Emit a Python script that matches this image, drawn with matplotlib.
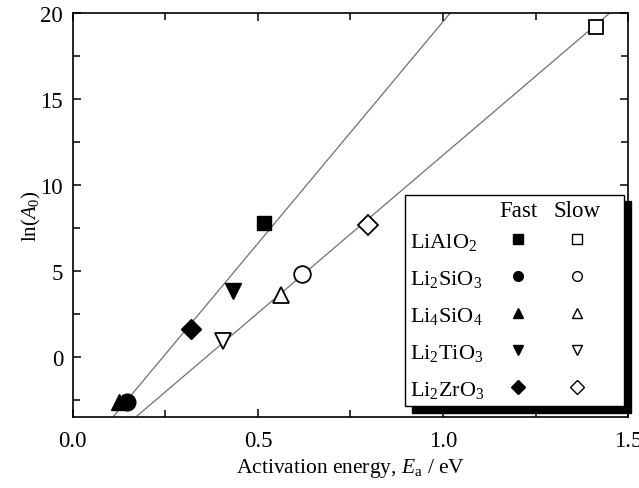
import numpy as np
import matplotlib
matplotlib.use('Agg')
import matplotlib.pyplot as plt
from matplotlib.patches import Rectangle

plt.rcParams['font.family'] = ['Liberation Serif', 'DejaVu Serif']
plt.rcParams['mathtext.fontset'] = 'custom'
plt.rcParams['mathtext.rm'] = 'Liberation Serif'
plt.rcParams['mathtext.it'] = 'Liberation Serif:italic'

# -------------------- data --------------------
materials = [r'LiAlO$_2$', r'Li$_2$SiO$_3$', r'Li$_4$SiO$_4$', r'Li$_2$TiO$_3$', r'Li$_2$ZrO$_3$']
markers = ['s', 'o', '^', 'v', 'D']

fast_ea = [0.516, 0.145, 0.125, 0.432, 0.320]
fast_lnA = [7.8, -2.6, -2.6, 3.85, 1.65]

slow_ea = [1.414, 0.620, 0.562, 0.405, 0.797]
slow_lnA = [19.2, 4.8, 3.6, 0.9, 7.7]

# fitted lines (slope, intercept)
fast_fit = (25.8, -6.29)
slow_fit = (18.36, -6.62)

# -------------------- plot --------------------
fig = plt.figure(figsize=(6.39, 4.89), dpi=100)
ax = fig.add_axes([0.114, 0.145, 0.869, 0.826])

xx = np.array([0.0, 1.5])
for slope, icpt in (fast_fit, slow_fit):
    ax.plot(xx, slope * xx + icpt, color='#707070', lw=0.9, zorder=1)

msize = {'s': 10.5, 'o': 12, '^': 12, 'v': 12, 'D': 10}
for i, m in enumerate(markers):
    ax.plot(fast_ea[i], fast_lnA[i], marker=m, ms=msize[m], color='black',
            mec='black', ls='none', zorder=3)
    ax.plot(slow_ea[i], slow_lnA[i], marker=m, ms=msize[m], mfc='white',
            mec='black', mew=1.3, ls='none', zorder=3)

ax.set_xlim(0, 1.5)
ax.set_ylim(-3.5, 20)
ax.set_xticks([0.0, 0.5, 1.0, 1.5])
ax.set_xticks(np.arange(0, 1.51, 0.25), minor=True)
ax.set_yticks([0, 5, 10, 15, 20])
ax.set_yticks(np.arange(-2.5, 20.1, 2.5), minor=True)
ax.xaxis.set_major_formatter(matplotlib.ticker.FormatStrFormatter('%.1f'))
ax.tick_params(which='both', direction='in', top=True, right=True, labelsize=16.5, width=1.1)
ax.tick_params(which='major', length=6)
ax.tick_params(which='minor', length=5)
ax.tick_params(axis='x', pad=9)
ax.tick_params(axis='y', pad=7)
for s in ax.spines.values():
    s.set_linewidth(1.2)

ax.set_xlabel(r'Activation energy, $E_\mathrm{a}$ / eV', fontsize=15.5, labelpad=4)
ax.set_ylabel(r'ln($A_0$)', fontsize=15, labelpad=-2)

# -------------------- custom legend table --------------------
bx0, by0, bx1, by1 = 0.598, 0.027, 0.993, 0.550
shadow = Rectangle((bx0 + 0.012, by0 - 0.016), bx1 - bx0, by1 - by0,
                   transform=ax.transAxes, facecolor='black', edgecolor='black',
                   clip_on=False, zorder=4)
box = Rectangle((bx0, by0), bx1 - bx0, by1 - by0, transform=ax.transAxes,
                facecolor='white', edgecolor='black', lw=1.0, clip_on=False, zorder=5)
ax.add_patch(shadow)
ax.add_patch(box)

x_lab, x_fast, x_slow = 0.607, 0.802, 0.908
ax.text(x_fast, 0.512, 'Fast', transform=ax.transAxes, ha='center',
        va='center', fontsize=16.5, zorder=6)
ax.text(x_slow, 0.512, 'Slow', transform=ax.transAxes, ha='center',
        va='center', fontsize=16.5, zorder=6)
row_y = [0.441, 0.349, 0.258, 0.165, 0.074]
for name, m, y in zip(materials, markers, row_y):
    ax.text(x_lab, y, name, transform=ax.transAxes, ha='left',
            va='center_baseline', fontsize=16, zorder=6)
    ax.plot(x_fast, y, marker=m, ms=7, color='black', transform=ax.transAxes,
            clip_on=False, zorder=6)
    ax.plot(x_slow, y, marker=m, ms=7, mfc='white', mec='black', mew=1.0,
            transform=ax.transAxes, clip_on=False, zorder=6)

fig.savefig('out.png', dpi=100)
